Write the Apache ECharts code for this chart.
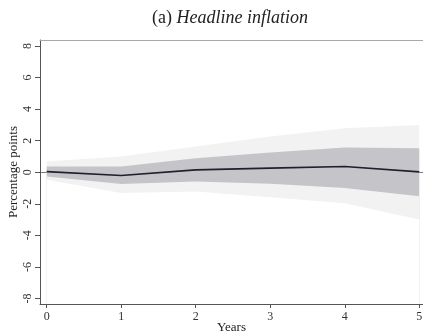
<!DOCTYPE html>
<html>
<head>
<meta charset="utf-8">
<script src="https://cdn.jsdelivr.net/npm/echarts@6/dist/echarts.min.js"></script>
<style>
html,body{margin:0;padding:0;background:#fff;}
#c{width:423px;height:335px;}
</style>
</head>
<body>
<div id="c"></div>
<script>
var years = [0, 1, 2, 3, 4, 5];
var irf = [0.04, -0.21, 0.15, 0.26, 0.36, 0.02];
var inner_lo = [-0.27, -0.75, -0.59, -0.73, -1.0, -1.52];
var inner_hi = [0.36, 0.36, 0.89, 1.25, 1.56, 1.52];
var outer_lo = [-0.48, -1.32, -1.22, -1.58, -1.96, -3.0];
var outer_hi = [0.68, 1.0, 1.63, 2.26, 2.79, 3.0];
var yTicks = [-8, -6, -4, -2, 0, 2, 4, 6, 8];
var xTicks = [0, 1, 2, 3, 4, 5];

function pairs(arr) { return years.map(function (x, i) { return [x, arr[i]]; }); }

var serif = '"Liberation Serif","DejaVu Serif",serif';
var chart = echarts.init(document.getElementById('c'), null, {renderer: 'canvas'});

function fillTo(arr, color, z) {
  return {type: 'line', data: pairs(arr), symbol: 'none', z: z, silent: true,
    lineStyle: {opacity: 0}, areaStyle: {color: color, opacity: 1, origin: 'start'}};
}

chart.setOption({
  backgroundColor: '#fff',
  animation: false,
  title: {
    text: '{n|(a) }{i|Headline inflation}',
    left: 225, top: 4, textAlign: 'center',
    textStyle: {
      fontWeight: 'normal',
      rich: {
        n: {fontFamily: serif, fontSize: 18, fontWeight: 'normal', color: '#222'},
        i: {fontFamily: serif, fontSize: 18, fontWeight: 'normal', fontStyle: 'italic', color: '#222'}
      }
    }
  },
  grid: {left: 40, right: 0, top: 40, bottom: 31, containLabel: false, outerBoundsMode: 'none'},
  xAxis: [{
    type: 'value', min: -0.09, max: 5.05,
    name: 'Years', nameLocation: 'middle', nameGap: 17, nameMoveOverlap: false,
    nameTextStyle: {fontFamily: serif, fontSize: 13, color: '#222'},
    axisLine: {show: true, onZero: false, lineStyle: {color: '#555', width: 1}},
    axisTick: {show: true, length: 4, customValues: xTicks, lineStyle: {color: '#555'}},
    axisLabel: {customValues: xTicks, fontFamily: serif, fontSize: 12, color: '#333', margin: 7},
    splitLine: {show: false}
  }, {
    type: 'value', position: 'top', min: -0.09, max: 5.05,
    axisLine: {show: true, onZero: false, lineStyle: {color: '#aaa', width: 1}},
    axisTick: {show: false}, axisLabel: {show: false}, splitLine: {show: false}
  }],
  yAxis: {
    type: 'value', min: -8.35, max: 8.38,
    name: 'Percentage points', nameLocation: 'middle', nameGap: 20, nameMoveOverlap: false,
    nameTextStyle: {fontFamily: serif, fontSize: 13, color: '#222'},
    axisLine: {show: true, onZero: false, lineStyle: {color: '#555', width: 1}},
    axisTick: {show: true, length: 5, customValues: yTicks, lineStyle: {color: '#555'}},
    axisLabel: {customValues: yTicks, rotate: 90, fontFamily: serif, fontSize: 12, color: '#333', margin: 6},
    splitLine: {show: false}
  },
  series: [
    {
      type: 'line', data: pairs(irf), symbol: 'none', z: 0, lineStyle: {opacity: 0},
      markLine: {silent: true, symbol: 'none', label: {show: false}, z: 0,
        lineStyle: {color: '#777', width: 1, type: 'solid'},
        data: [{yAxis: 0}]}
    },
    fillTo(outer_hi, '#f2f2f2', 1),
    fillTo(inner_hi, '#c5c5c9', 2),
    fillTo(inner_lo, '#f2f2f2', 3),
    fillTo(outer_lo, '#ffffff', 4),
    {type: 'line', data: pairs(irf), symbol: 'none', z: 5,
     lineStyle: {color: '#1f1f2e', width: 1.6}}
  ]
});
</script>
</body>
</html>
